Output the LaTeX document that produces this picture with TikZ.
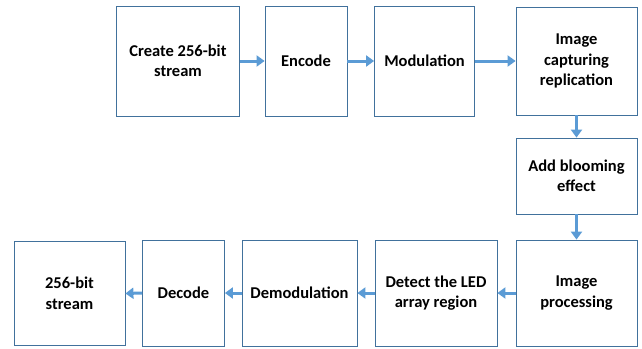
\documentclass[tikz,border=0pt]{standalone}
\usepackage{fontspec}
\setmainfont{Carlito}
\usetikzlibrary{arrows.meta}
\definecolor{boxline}{HTML}{41719C}
\definecolor{arrowblue}{HTML}{5B9BD5}
\begin{document}
\begin{tikzpicture}[x=1pt,y=-1pt,
  box/.style={draw=boxline,line width=0.8pt,fill=white,align=center,inner sep=2pt,
    font=\fontsize{16.5}{20.5}\selectfont\bfseries},
  flow/.style={draw=arrowblue,line width=3pt,-{Triangle[length=8pt,width=11pt]}}]
\useasboundingbox (0,0) rectangle (642,348);
\node[box,minimum width=123pt,minimum height=110pt] (b1) at (178,61) {Create 256-bit\\stream};
\node[box,minimum width=82pt,minimum height=110pt] (b2) at (306,61) {Encode};
\node[box,minimum width=100pt,minimum height=110pt] (b3) at (424.5,61) {Modulation};
\node[box,minimum width=121pt,minimum height=108pt] (b4) at (576.5,61) {Image\\capturing\\replication};
\node[box,minimum width=121pt,minimum height=76pt] (b5) at (576.5,176) {Add blooming\\effect};
\node[box,minimum width=121pt,minimum height=106pt] (b6) at (576.5,293) {Image\\processing};
\node[box,minimum width=122pt,minimum height=106pt] (b7) at (436,293) {Detect the LED\\array region};
\node[box,minimum width=115pt,minimum height=106pt] (b8) at (299.5,293) {Demodulation};
\node[box,minimum width=82pt,minimum height=106pt] (b9) at (183.5,293) {Decode};
\node[box,minimum width=111pt,minimum height=104pt] (b10) at (69.5,293.5) {256-bit\\stream};
\draw[flow] (b1.east) -- (b2.west);
\draw[flow] (b2.east) -- (b3.west);
\draw[flow] (b3.east) -- (b4.west);
\draw[flow] (b4.south) -- (b5.north);
\draw[flow] (b5.south) -- (b6.north);
\draw[flow] (b6.west) -- (b7.east);
\draw[flow] (b7.west) -- (b8.east);
\draw[flow] (b8.west) -- (b9.east);
\draw[flow] (b9.west) -- (b10.east);
\end{tikzpicture}
\end{document}
